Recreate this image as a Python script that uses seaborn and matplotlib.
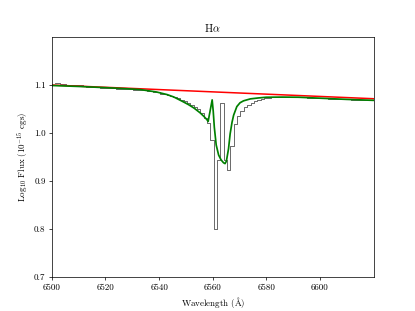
import matplotlib
matplotlib.use("Agg")
import matplotlib.pyplot as plt
import seaborn as sns
import pandas as pd

plt.rcParams["font.family"] = ["serif"]
plt.rcParams["font.serif"] = ["cmr10", "DejaVu Serif"]
plt.rcParams["mathtext.fontset"] = "cm"
plt.rcParams["axes.formatter.use_mathtext"] = True

# Observed spectrum (binned, drawn as steps)
obs_wave = [
    6500.98, 6502.23, 6503.48, 6504.73, 6505.98, 6507.23, 6508.48, 6509.73, 6510.98, 6512.23,
    6513.48, 6514.73, 6515.98, 6517.23, 6518.48, 6519.73, 6520.98, 6522.23, 6523.48, 6524.73,
    6525.98, 6527.23, 6528.48, 6529.73, 6530.98, 6532.23, 6533.48, 6534.73, 6535.98, 6537.23,
    6538.48, 6539.73, 6540.98, 6542.23, 6543.48, 6544.73, 6545.98, 6547.23, 6548.48, 6549.73,
    6550.98, 6552.23, 6553.48, 6554.73, 6555.98, 6557.23, 6558.48, 6559.73, 6560.98, 6562.23,
    6563.48, 6564.73, 6565.98, 6567.23, 6568.48, 6569.73, 6570.98, 6572.23, 6573.48, 6574.73,
    6575.98, 6577.23, 6578.48, 6579.73, 6580.98, 6582.23, 6583.48, 6584.73, 6585.98, 6587.23,
    6588.48, 6589.73, 6590.98, 6592.23, 6593.48, 6594.73, 6595.98, 6597.23, 6598.48, 6599.73,
    6600.98, 6602.23, 6603.48, 6604.73, 6605.98, 6607.23, 6608.48, 6609.73, 6610.98, 6612.23,
    6613.48, 6614.73, 6615.98, 6617.23, 6618.48, 6619.73,
]
obs_flux = [
    1.104, 1.104, 1.103, 1.103, 1.101, 1.101, 1.100, 1.100, 1.099, 1.098,
    1.096, 1.095, 1.095, 1.095, 1.0945, 1.0942, 1.094, 1.0937, 1.0932, 1.0927,
    1.0925, 1.092, 1.0915, 1.091, 1.0905, 1.0905, 1.090, 1.089, 1.088, 1.087,
    1.086, 1.085, 1.082, 1.081, 1.079, 1.077, 1.074, 1.072, 1.069, 1.066,
    1.063, 1.059, 1.054, 1.049, 1.041, 1.031, 1.021, 0.986, 0.799, 0.944,
    1.063, 0.944, 0.923, 0.973, 1.018, 1.035, 1.046, 1.054, 1.059, 1.063,
    1.066, 1.068, 1.070, 1.072, 1.073, 1.074, 1.0745, 1.0748, 1.0748, 1.0748,
    1.0748, 1.0748, 1.0747, 1.0745, 1.0743, 1.0741, 1.0738, 1.0735, 1.0731, 1.0727,
    1.0723, 1.072, 1.0717, 1.0713, 1.071, 1.0707, 1.0703, 1.070, 1.0698, 1.0696,
    1.0694, 1.0692, 1.069, 1.0687, 1.0684, 1.068,
]

# Continuum fit (red)
cont_wave = [6500.0, 6620.0]
cont_flux = [1.100, 1.0714]

# Model fit (green)
model_wave = [
    6500.0, 6510.0, 6520.0, 6527.0, 6533.0, 6539.0, 6543.0, 6545.5, 6549.0, 6551.0,
    6553.0, 6555.3, 6556.8, 6557.8, 6558.3, 6559.0, 6559.8, 6560.2, 6560.6, 6561.3,
    6562.2, 6563.1, 6564.0, 6564.6, 6565.1, 6565.9, 6566.5, 6567.2, 6567.8, 6569.0,
    6570.2, 6571.5, 6574.0, 6577.0, 6580.0, 6586.0, 6592.0, 6600.0, 6610.0, 6620.0,
]
model_flux = [
    1.099, 1.097, 1.0945, 1.0925, 1.0905, 1.0855, 1.080, 1.075, 1.065, 1.059,
    1.052, 1.042, 1.034, 1.028, 1.024, 1.045, 1.069, 1.045, 1.012, 0.975,
    0.954, 0.944, 0.938, 0.936, 0.941, 0.967, 0.998, 1.022, 1.037, 1.055,
    1.063, 1.067, 1.071, 1.073, 1.0745, 1.0748, 1.0745, 1.0725, 1.070, 1.068,
]

xticks = [6500, 6520, 6540, 6560, 6580, 6600]
yticks = [0.7, 0.8, 0.9, 1.0, 1.1]

obs = pd.DataFrame({"wave": obs_wave, "flux": obs_flux})
cont = pd.DataFrame({"wave": cont_wave, "flux": cont_flux})
model = pd.DataFrame({"wave": model_wave, "flux": model_flux})

fig, ax = plt.subplots(figsize=(6.4, 4.8), dpi=64.85)

sns.lineplot(data=obs, x="wave", y="flux", ax=ax, color="k", lw=0.9,
             drawstyle="steps-mid", alpha=0.7, sort=False)
sns.lineplot(data=cont, x="wave", y="flux", ax=ax, color="red", lw=1.7, sort=False)
sns.lineplot(data=model, x="wave", y="flux", ax=ax, color="green", lw=1.9, sort=False)

ax.set_xlim(6500, 6620)
ax.set_ylim(0.7, 1.2)
ax.set_xticks(xticks)
ax.set_xticklabels([str(t) for t in xticks])
ax.set_yticks(yticks)
ax.set_yticklabels([f"{t:.1f}" for t in yticks])
ax.set_xlabel(r"Wavelength ($\mathrm{\AA}$)")
ax.set_ylabel(r"Log$_{10}$ Flux (10$^{-15}$ cgs)")
ax.set_title(r"H$\alpha$")

fig.savefig("out.png", dpi=64.85)
